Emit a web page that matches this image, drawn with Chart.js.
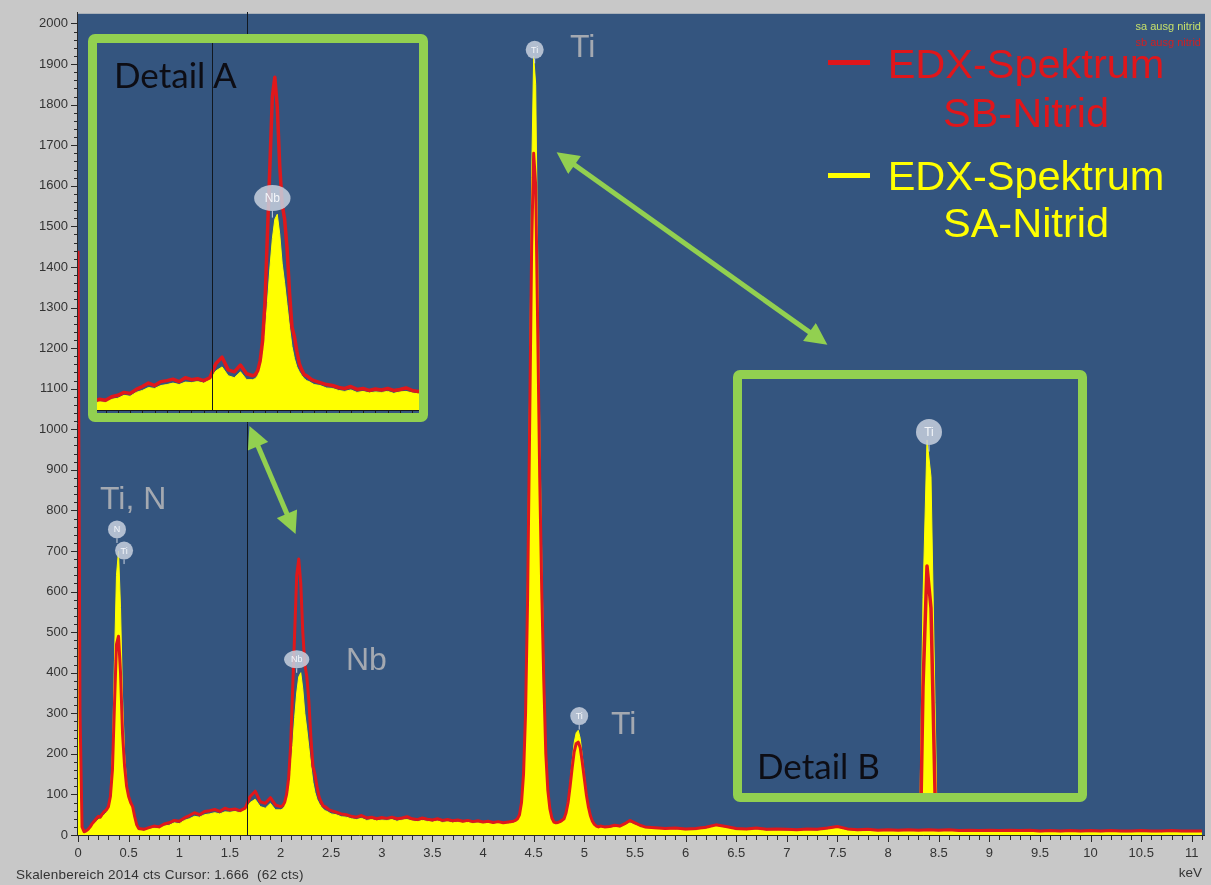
<!DOCTYPE html>
<html>
<head>
<meta charset="utf-8">
<script src="https://cdn.jsdelivr.net/npm/chart.js@4.4.1/dist/chart.umd.min.js"></script>
<style>
  html, body { margin: 0; padding: 0; background: #c8c8c8; }
  #wrap { position: relative; width: 1211px; height: 885px; overflow: hidden; }
  canvas { position: absolute; left: 0; top: 0; }
  .box { position: absolute; box-sizing: border-box; border: 9px solid #92d050; border-radius: 7px; background: #34557f; }
  svg { position: absolute; left: 0; top: 0; pointer-events: none; }
</style>
</head>
<body>
<div id="wrap">
  <canvas id="main" width="1211" height="885"></canvas>
  <div class="box" style="left:88px;top:34px;width:340px;height:388px"><canvas id="detailA" width="322" height="370"></canvas></div>
  <div class="box" style="left:733px;top:370px;width:354px;height:432px"><canvas id="detailB" width="336" height="414"></canvas></div>
  <svg width="1211" height="885" xmlns="http://www.w3.org/2000/svg">
    <defs>
      <marker id="ah" viewBox="0 0 10 10" refX="7" refY="5" markerWidth="5" markerHeight="4.4" orient="auto-start-reverse">
        <path d="M0,0 L10,5 L0,10 z" fill="#92d050"/>
      </marker>
    </defs>
    <line x1="562" y1="156" x2="822" y2="341" stroke="#92d050" stroke-width="5" marker-start="url(#ah)" marker-end="url(#ah)"/>
    <line x1="252" y1="432" x2="293" y2="528" stroke="#92d050" stroke-width="5" marker-start="url(#ah)" marker-end="url(#ah)"/>

    <g font-family="Liberation Sans, Arial, sans-serif" font-size="41.5">
      <rect x="828" y="60" width="42" height="5" fill="#e0161b"/>
      <text x="1026" y="78" fill="#e0161b" text-anchor="middle">EDX-Spektrum</text>
      <text x="1026" y="127" fill="#e0161b" text-anchor="middle">SB-Nitrid</text>
      <rect x="828" y="173" width="42" height="5" fill="#ffff00"/>
      <text x="1026" y="190" fill="#ffff00" text-anchor="middle">EDX-Spektrum</text>
      <text x="1026" y="237" fill="#ffff00" text-anchor="middle">SA-Nitrid</text>
    </g>

    <g font-family="Liberation Sans, Arial, sans-serif" font-size="32" fill="#a4a9b1">
      <text x="570" y="57">Ti</text>
      <text x="100" y="509">Ti, N</text>
      <text x="346" y="670">Nb</text>
      <text x="611" y="734">Ti</text>
    </g>

    <g font-family="Lato, Open Sans, sans-serif" font-size="35" fill="#0d0d14">
      <text x="114" y="88">Detail A</text>
      <text x="757" y="779">Detail B</text>
    </g>

    <g font-family="Liberation Sans, Arial, sans-serif" font-size="11">
      <text x="1201" y="30" fill="#c6e06a" text-anchor="end">sa ausg nitrid</text>
      <text x="1201" y="46" fill="#d21f22" text-anchor="end">sb ausg nitrid</text>
    </g>
    <g font-family="Liberation Sans, Arial, sans-serif" font-size="13.5" fill="#333">
      <text x="16" y="879" xml:space="preserve" letter-spacing="0.2">Skalenbereich 2014 cts Cursor: 1.666  (62 cts)</text>
      <text x="1202" y="877" text-anchor="end">keV</text>
    </g>
  </svg>
</div>

<script>
// energy channels (keV)
const energy = [
  0.00,0.02,0.04,0.06,0.08,0.10,0.12,0.14,0.16,0.18,
  0.20,0.22,0.24,0.26,0.28,0.30,0.32,0.34,0.36,0.38,
  0.40,0.42,0.44,0.46,0.48,0.50,0.52,0.54,0.56,0.58,0.60,
  0.65,0.70,0.75,0.80,0.85,0.90,0.95,1.00,1.05,1.10,1.15,1.20,1.25,1.30,
  1.35,1.40,1.45,1.50,1.55,1.60,1.65,1.70,1.75,1.80,1.85,1.90,1.95,2.00,
  2.02,2.04,2.06,2.08,2.10,2.12,2.14,2.16,2.18,2.20,2.22,2.24,2.26,2.28,
  2.30,2.32,2.34,2.36,2.38,2.40,2.42,2.44,2.46,2.48,2.50,
  2.55,2.60,2.65,2.70,2.75,2.80,2.85,2.90,2.95,3.00,3.05,3.10,3.15,3.20,
  3.25,3.30,3.35,3.40,3.45,3.50,3.55,3.60,3.65,3.70,3.75,3.80,3.85,3.90,
  3.95,4.00,4.05,4.10,4.15,4.20,4.25,4.30,
  4.32,4.34,4.36,4.38,4.40,4.42,4.44,4.46,4.48,4.50,4.52,4.54,4.56,4.58,
  4.60,4.62,4.64,4.66,4.68,4.70,4.72,4.74,4.76,4.78,4.80,4.82,4.84,4.86,
  4.88,4.90,4.92,4.94,4.96,4.98,5.00,5.02,5.04,5.06,5.08,5.10,5.12,5.14,
  5.16,5.18,5.20,
  5.25,5.30,5.35,5.40,5.45,5.50,5.55,5.60,
  5.7,5.8,5.9,6.0,6.1,6.2,6.3,6.4,6.5,6.6,
  6.7,6.8,6.9,7.0,7.1,7.2,7.3,7.4,7.5,7.6,
  7.7,7.8,7.9,8.0,8.1,8.2,8.3,8.4,8.5,8.6,
  8.7,8.8,8.9,9.0,9.1,9.2,9.3,9.4,9.5,9.6,
  9.7,9.8,9.9,10.0,10.1,10.2,10.3,10.4,10.5,10.6,
  10.7,10.8,10.9,11.0,11.1
];

// EDX-Spektrum SB-Nitrid (red), counts
const sbNitrid = [
  1440,300,20,8,10,14,20,28,34,40,
  46,44,52,58,62,70,95,160,320,470,
  490,400,250,170,120,95,80,70,45,25,16,
  14,18,22,20,27,30,36,34,42,48,55,50,58,60,
  63,58,66,62,64,60,66,95,108,82,78,92,74,70,
  72,80,100,140,220,360,500,640,680,620,500,420,390,330,
  240,170,150,120,95,82,72,70,66,62,60,
  56,52,50,46,44,48,42,44,40,43,41,44,40,42,
  45,40,38,42,39,37,40,36,38,35,37,34,36,33,
  35,32,34,31,33,30,32,34,
  36,40,50,80,150,300,580,1000,1450,1680,1600,1250,880,600,
  380,200,110,65,42,32,30,31,33,36,40,55,80,120,
  165,205,225,229,215,180,140,100,70,48,34,26,22,20,
  22,21,20,
  21,24,22,28,36,30,24,20,
  18,16,17,15,16,19,25,21,16,15,
  17,14,15,14,13,15,14,17,21,15,
  13,14,12,13,12,13,12,13,12,13,
  11,12,11,12,11,12,11,12,10,11,
  10,11,10,11,10,11,10,10,11,10,
  10,11,10,10,10
];

// EDX-Spektrum SA-Nitrid (yellow), counts
const saNitrid = [
  1150,200,12,5,7,10,16,22,28,33,
  38,40,45,50,55,64,95,200,430,640,
  700,560,340,200,130,95,75,62,38,20,12,
  10,14,17,16,22,24,30,28,36,40,46,44,50,52,
  55,52,57,56,58,55,62,80,88,70,66,78,62,62,
  64,70,86,110,160,220,290,350,390,400,360,300,260,215,
  170,130,105,88,78,70,64,60,58,55,52,
  50,45,44,40,38,41,36,38,35,37,36,38,34,37,
  38,35,33,36,34,32,35,31,33,30,32,30,31,29,
  30,28,30,27,29,27,28,30,
  32,36,46,75,150,320,640,1100,1620,1920,1850,1420,1000,680,
  420,220,115,62,40,30,28,29,31,34,40,56,84,128,
  180,228,252,258,238,195,150,105,70,46,32,23,19,17,
  19,18,17,
  17,19,18,24,30,25,20,16,
  14,13,13,12,12,15,21,17,12,11,
  13,10,11,10,10,11,10,13,17,11,
  9,10,9,9,9,10,9,9,8,9,
  8,9,8,8,8,9,8,8,7,8,
  7,8,7,7,7,8,7,7,7,7,
  6,7,7,7,6
];

const xTickLabels = [0,0.5,1,1.5,2,2.5,3,3.5,4,4.5,5,5.5,6,6.5,7,7.5,8,8.5,9,9.5,10,10.5,11];
const yTickLabels = [0,100,200,300,400,500,600,700,800,900,1000,1100,1200,1300,1400,1500,1600,1700,1800,1900,2000];

// element markers (label, keV, counts)
const markLabel  = ['N', 'Ti', 'Nb', 'Ti', 'Ti'];
const markEnergy = [0.385, 0.455, 2.16, 4.51, 4.95];
const markCounts = [753, 701, 433, 1935, 293];

const cursorKeV = 1.666;

Chart.defaults.font.family = '"Liberation Sans", Arial, sans-serif';

const RED = '#e0181b';
const YELLOW = '#ffff00';
const BLUE = '#34557f';

function datasets(redWidth) {
  return [{
    label: 'sb ausg nitrid',
    data: energy.map((e, i) => ({x: e, y: sbNitrid[i]})),
    borderColor: RED,
    borderWidth: redWidth,
    borderJoinStyle: 'round',
    fill: false,
    order: 0
  }, {
    label: 'sa ausg nitrid',
    data: energy.map((e, i) => ({x: e, y: saNitrid[i]})),
    borderColor: YELLOW,
    backgroundColor: YELLOW,
    borderWidth: 1,
    borderJoinStyle: 'round',
    fill: 'origin',
    order: 1
  }];
}

const plotBack = {
  id: 'plotBack',
  beforeDraw(chart, args, opts) {
    const {ctx, chartArea: a} = chart;
    ctx.save();
    ctx.fillStyle = opts.color;
    ctx.fillRect(a.left, a.top - opts.extraTop, a.right - a.left, a.bottom - a.top + opts.extraTop);
    ctx.restore();
  }
};

function drawBadges(chart, r, fs) {
  const {ctx, chartArea: a, scales: {x, y}} = chart;
  ctx.save();
  markLabel.forEach((t, i) => {
    const px = x.getPixelForValue(markEnergy[i]);
    const py = y.getPixelForValue(markCounts[i]);
    if (px < a.left || px > a.right || py < a.top || py > a.bottom) return;
    const rx = t === 'Nb' ? r * 1.4 : r;
    ctx.strokeStyle = 'rgba(220,226,236,0.9)';
    ctx.lineWidth = 1;
    ctx.beginPath();
    ctx.moveTo(px, py + r);
    ctx.lineTo(px, py + r * 1.5);
    ctx.stroke();
    ctx.fillStyle = 'rgba(196,205,220,0.88)';
    ctx.beginPath();
    ctx.ellipse(px, py, rx, r, 0, 0, Math.PI * 2);
    ctx.fill();
    ctx.fillStyle = '#f4f6fa';
    ctx.font = fs + 'px "Liberation Sans", Arial, sans-serif';
    ctx.textAlign = 'center';
    ctx.textBaseline = 'middle';
    ctx.fillText(t, px, py + 0.5);
  });
  ctx.restore();
}

function drawCursor(chart, top) {
  const {ctx, chartArea: a, scales: {x}} = chart;
  const px = Math.round(x.getPixelForValue(cursorKeV)) + 0.5;
  ctx.save();
  ctx.strokeStyle = '#111820';
  ctx.lineWidth = 1;
  ctx.beginPath();
  ctx.moveTo(px, top);
  ctx.lineTo(px, a.bottom);
  ctx.stroke();
  ctx.restore();
}

// main spectrum: axes, ticks, cursor and markers
const mainDecor = {
  id: 'mainDecor',
  afterDatasetsDraw(chart) {
    const {ctx, chartArea: a, scales: {x, y}} = chart;
    drawCursor(chart, 12);
    ctx.save();
    ctx.strokeStyle = '#2a2a2a';
    ctx.lineWidth = 1;
    ctx.beginPath();
    ctx.moveTo(a.left - 0.5, 12);
    ctx.lineTo(a.left - 0.5, a.bottom + 0.5);
    ctx.lineTo(a.right, a.bottom + 0.5);
    for (let v = 0; v <= y.max; v += 20) {
      const py = Math.round(y.getPixelForValue(v)) + 0.5;
      const len = v % 100 === 0 ? 7 : 4;
      ctx.moveTo(a.left, py);
      ctx.lineTo(a.left - len, py);
    }
    for (let i = 0; i / 10 <= x.max; i++) {
      const px = Math.round(x.getPixelForValue(i / 10)) + 0.5;
      const len = i % 5 === 0 ? 7 : 5;
      ctx.moveTo(px, a.bottom);
      ctx.lineTo(px, a.bottom + len);
    }
    ctx.stroke();
    ctx.restore();
    drawBadges(chart, 9, 9);
  }
};

new Chart(document.getElementById('main'), {
  type: 'line',
  data: { datasets: datasets(3) },
  plugins: [plotBack, mainDecor],
  options: {
    responsive: false,
    animation: false,
    devicePixelRatio: 1,
    layout: { padding: { left: 0, right: 6, top: 16, bottom: 0 } },
    elements: { point: { radius: 0 }, line: { tension: 0 } },
    plugins: {
      legend: { display: false },
      tooltip: { enabled: false },
      plotBack: { color: BLUE, extraTop: 4 }
    },
    scales: {
      x: {
        type: 'linear',
        min: 0,
        max: 11.13,
        afterBuildTicks: s => { s.ticks = xTickLabels.map(v => ({value: v})); },
        afterFit: s => { s.height = 50; },
        grid: { display: false, drawTicks: false },
        border: { display: false },
        ticks: { padding: 11, color: '#333', font: { size: 13 }, autoSkip: false, maxRotation: 0, callback: v => String(v) }
      },
      y: {
        min: 0,
        max: 2014,
        afterBuildTicks: s => { s.ticks = yTickLabels.map(v => ({value: v})); },
        afterFit: s => { s.width = 78; },
        grid: { display: false, drawTicks: false },
        border: { display: false },
        ticks: { padding: 10, color: '#333', font: { size: 13 }, autoSkip: false, callback: v => String(v) }
      }
    }
  }
});

function detailChart(id, xMin, xMax, yMin, yMax, pad, redWidth, decor) {
  return new Chart(document.getElementById(id), {
    type: 'line',
    data: { datasets: datasets(redWidth) },
    plugins: [decor],
    options: {
      responsive: false,
      animation: false,
      devicePixelRatio: 1,
      layout: { padding: pad },
      elements: { point: { radius: 0 }, line: { tension: 0 } },
      plugins: { legend: { display: false }, tooltip: { enabled: false } },
      scales: {
        x: { type: 'linear', min: xMin, max: xMax, display: false },
        y: { min: yMin, max: yMax, display: false }
      }
    }
  });
}

// Detail A: zoom on the Nb peak
detailChart('detailA', 0.73, 3.356, 0, 750, { left: 0, right: 0, top: 0, bottom: 3 }, 3.5, {
  id: 'detailADecor',
  afterDatasetsDraw(chart) {
    const {ctx, chartArea: a, scales: {x}} = chart;
    drawCursor(chart, 0);
    ctx.save();
    ctx.strokeStyle = '#1a1a1a';
    ctx.lineWidth = 1;
    ctx.beginPath();
    ctx.moveTo(a.left, a.bottom + 0.5);
    ctx.lineTo(a.right, a.bottom + 0.5);
    for (let i = Math.ceil(x.min * 10); i / 10 <= x.max; i++) {
      const px = Math.round(x.getPixelForValue(i / 10)) + 0.5;
      ctx.moveTo(px, a.bottom);
      ctx.lineTo(px, a.bottom + 3);
    }
    ctx.stroke();
    ctx.restore();
    drawBadges(chart, 13, 12);
  }
});

// Detail B: top of the Ti K-alpha peak
detailChart('detailB', 3.575, 5.255, 1248, 2036, { left: 0, right: 0, top: 0, bottom: 0 }, 3.5, {
  id: 'detailBDecor',
  afterDatasetsDraw(chart) {
    drawBadges(chart, 13, 12);
  }
});
</script>
</body>
</html>
